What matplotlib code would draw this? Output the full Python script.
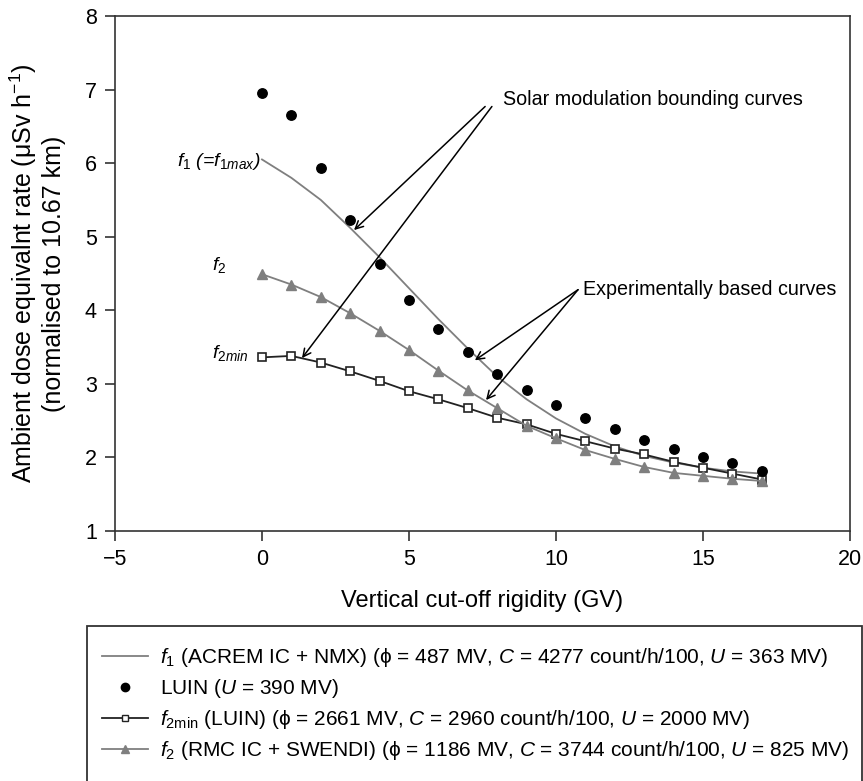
import matplotlib
matplotlib.use('Agg')
import matplotlib.pyplot as plt
from matplotlib.patches import Rectangle
from matplotlib.lines import Line2D

plt.rcParams['font.family'] = ['Liberation Sans', 'DejaVu Sans']
plt.rcParams['mathtext.fontset'] = 'custom'
plt.rcParams['mathtext.rm'] = 'Liberation Sans'
plt.rcParams['mathtext.it'] = 'Liberation Sans:italic'
plt.rcParams['mathtext.bf'] = 'Liberation Sans:bold'

# cut-off rigidity (GV)
rigidity = list(range(0, 18))

# dose rate values (uSv/h normalised to 10.67 km)
f1_acrem = [6.05, 5.80, 5.50, 5.12, 4.72, 4.30, 3.88, 3.48, 3.10,
            2.79, 2.53, 2.32, 2.15, 2.02, 1.93, 1.86, 1.81, 1.78]
luin = [6.95, 6.66, 5.94, 5.23, 4.63, 4.14, 3.74, 3.43, 3.14,
        2.91, 2.71, 2.53, 2.38, 2.24, 2.12, 2.01, 1.92, 1.82]
f2min_luin = [3.36, 3.38, 3.29, 3.17, 3.04, 2.90, 2.79, 2.67, 2.54,
              2.45, 2.32, 2.22, 2.12, 2.04, 1.94, 1.86, 1.78, 1.70]
f2_rmc = [4.49, 4.35, 4.18, 3.96, 3.72, 3.46, 3.18, 2.91, 2.67,
          2.43, 2.26, 2.10, 1.98, 1.87, 1.79, 1.75, 1.71, 1.68]

legend_labels = [
    r'$f_1$ (ACREM IC + NMX) (ϕ = 487 MV, $C$ = 4277 count/h/100, $U$ = 363 MV)',
    r'LUIN ($U$ = 390 MV)',
    r'$f_{\mathrm{2min}}$ (LUIN) (ϕ = 2661 MV, $C$ = 2960 count/h/100, $U$ = 2000 MV)',
    r'$f_2$ (RMC IC + SWENDI) (ϕ = 1186 MV, $C$ = 3744 count/h/100, $U$ = 825 MV)',
]

W, H = 863, 781
fig = plt.figure(figsize=(W / 100, H / 100), dpi=100)
ax = fig.add_axes([115 / W, 1 - 531 / H, (850 - 115) / W, (531 - 16) / H])

GRAY = '#7f7f7f'
DARK = '#222222'

ax.plot(rigidity, f1_acrem, color=GRAY, lw=1.3, zorder=2)
ax.plot(rigidity, luin, ls='none', marker='o', ms=6.8, color='black', zorder=4)
ax.plot(rigidity, f2min_luin, color=DARK, lw=1.3, marker='s', ms=5.5,
        mfc='white', mec=DARK, mew=1.2, zorder=3)
ax.plot(rigidity, f2_rmc, color=GRAY, lw=1.3, marker='^', ms=6.5,
        mfc=GRAY, mec=GRAY, zorder=3)

ax.set_xlim(-5, 20)
ax.set_ylim(1, 8)
ax.set_xticks([-5, 0, 5, 10, 15, 20])
ax.set_xticklabels(['\u22125', '0', '5', '10', '15', '20'])
ax.set_yticks(range(1, 9))
ax.tick_params(direction='out', length=7, width=1.2, labelsize=15.5,
               color='#333333')
ax.tick_params(axis='x', pad=6)
ax.tick_params(axis='y', pad=6)
for s in ax.spines.values():
    s.set_color('#333333')
    s.set_linewidth(1.2)

ax.set_xlabel('Vertical cut-off rigidity (GV)', fontsize=17, labelpad=14)
ax.set_ylabel('Ambient dose equivalnt rate (μSv h$^{\u22121}$)\n(normalised to 10.67 km)',
              fontsize=18, labelpad=14, linespacing=1.15)

# curve labels
ax.text(-0.05, 6.02, r'$f_1$ (=$f_{1max}$)', fontsize=14, style='italic',
        ha='right', va='center')
ax.text(-1.7, 4.62, r'$f_2$', fontsize=14, ha='left', va='center')
ax.text(-1.7, 3.42, r'$f_{2min}$', fontsize=14, ha='left', va='center')

arrow = dict(arrowstyle='->', color='black', lw=1.1, shrinkA=0, shrinkB=0,
             mutation_scale=14)
ax.text(8.2, 6.87, 'Solar modulation bounding curves', fontsize=14.2,
        ha='left', va='center')
ax.annotate('', xy=(3.13, 5.09), xytext=(7.59, 6.77), arrowprops=arrow)
ax.annotate('', xy=(1.36, 3.35), xytext=(7.82, 6.77), arrowprops=arrow)

ax.text(10.92, 4.28, 'Experimentally based curves', fontsize=14.2,
        ha='left', va='center')
ax.annotate('', xy=(7.24, 3.32), xytext=(10.75, 4.28), arrowprops=arrow)
ax.annotate('', xy=(7.62, 2.78), xytext=(10.75, 4.28), arrowprops=arrow)

# legend below the plot, box running off the bottom of the figure
handles = [
    Line2D([], [], color=GRAY, lw=1.3),
    Line2D([], [], ls='none', marker='o', ms=6, color='black'),
    Line2D([], [], color=DARK, lw=1.3, marker='s', ms=5, mfc='white', mec=DARK),
    Line2D([], [], color=GRAY, lw=1.3, marker='^', ms=6, mfc=GRAY, mec=GRAY),
]
fig.legend(handles, legend_labels, loc='upper left',
           bbox_to_anchor=(102 / W, 1 - 646 / H), frameon=False,
           fontsize=15, handlelength=2.2, handletextpad=0.58,
           labelspacing=0.39, borderaxespad=0, borderpad=0)
fig.patches.append(Rectangle((87 / W, -0.05), (862 - 87) / W, 0.05 + (1 - 626 / H),
                             transform=fig.transFigure, fill=False,
                             edgecolor='#333333', lw=1.3))

fig.savefig('out.png', dpi=100)
